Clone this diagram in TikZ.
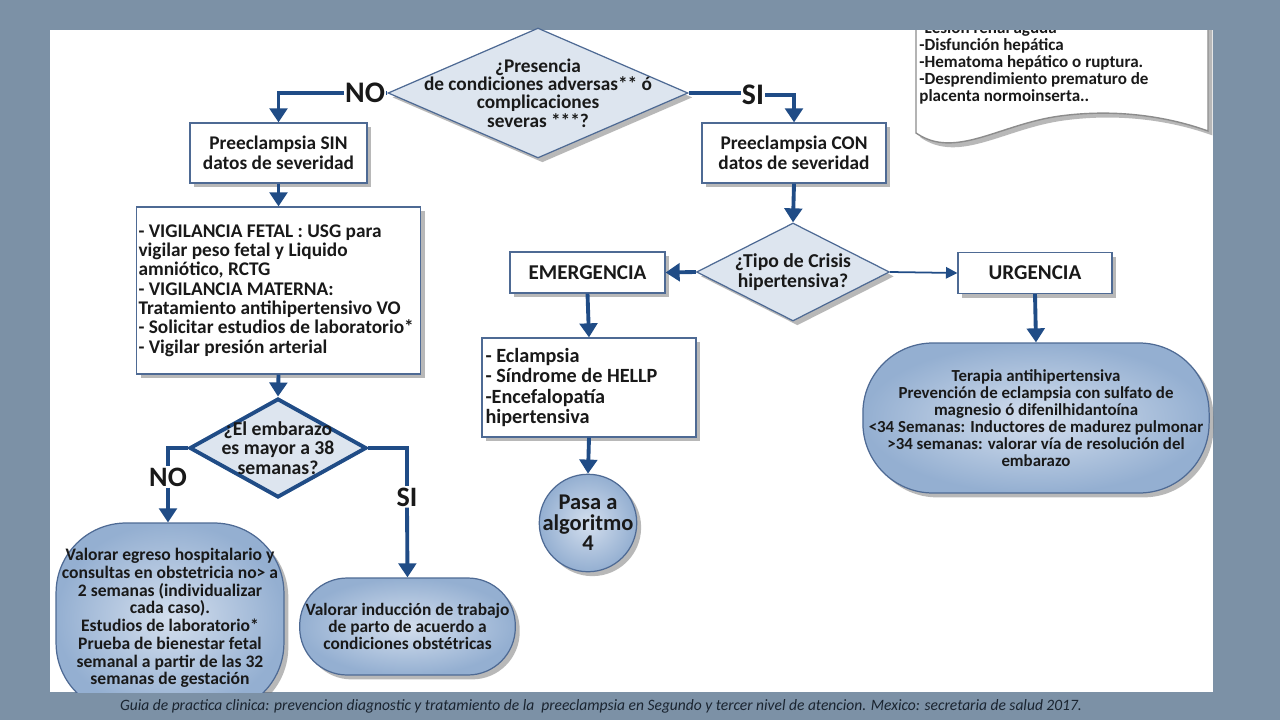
\documentclass[tikz,border=0pt]{standalone}
\usepackage{fontspec}
\setmainfont{Carlito}
\usepackage{tikz}
\usetikzlibrary{positioning}
\usetikzlibrary{shapes.geometric}
\usetikzlibrary{arrows.meta}
\usetikzlibrary{shadows}
\definecolor{slideColor}{RGB}{124,145,166}
\definecolor{flowColor}{RGB}{32,76,134}
\definecolor{frameColor}{RGB}{78,106,148}
\definecolor{decisionColor}{RGB}{221,229,239}
\definecolor{bubbleInner}{RGB}{212,223,238}
\definecolor{bubbleOuter}{RGB}{148,175,209}
\definecolor{footColor}{RGB}{26,36,48}

\begin{document}
\begin{tikzpicture}[x=0.02cm,y=-0.02cm]

          \tikzstyle{plainText} = [font=\bfseries\fontsize{11}{11.3}\selectfont, text=black!90, align=center];
          \tikzstyle{boxShadow} = [drop shadow={shadow xshift=2.5pt, shadow yshift=-2.5pt, fill=black!55, opacity=0.5}];
          \tikzstyle{normalBox} = [plainText, boxShadow, draw=frameColor, line width=0.7pt, fill=white, inner sep=2pt];
          \tikzstyle{decisionBox} = [diamond, boxShadow, draw=frameColor, line width=0.7pt, fill=decisionColor, inner sep=0pt];
          \tikzstyle{decisionBoxBis} = [diamond, draw=flowColor, line width=2.2pt, fill=decisionColor, inner sep=0pt];
          \tikzstyle{bubbleNode} = [plainText, boxShadow, draw=frameColor, line width=0.7pt, inner color=bubbleInner, outer color=bubbleOuter];
          \tikzstyle{flowLabel} = [font=\bfseries\fontsize{17}{17}\selectfont, text=black!90, inner sep=0.5pt];

          \tikzstyle{flowEdge} = [line width=2.2pt, flowColor];
          \tikzstyle{flowArrow} = [flowEdge, -{Triangle[width=10pt,length=8pt]}];
          \tikzstyle{thinArrow} = [line width=1pt, flowColor, -{Triangle[width=6.5pt,length=6.5pt]}];

          \useasboundingbox (0,0) rectangle (1280,720);
          \fill[slideColor] (0,0) rectangle (1280,720);
          \fill[white] (50,30) rectangle (1213,692);

          % note with the severe complications
          \begin{scope}
            \clip (50,30) rectangle (1213,692);
            \draw[boxShadow, draw=black!45, line width=0.8pt, fill=white] (916,0) -- (916,133) .. controls (955,160) and (1000,124) .. (1060,116) .. controls (1120,108) and (1172,118) .. (1208,131) -- (1208,0) -- cycle;
            \node[plainText, font=\bfseries\fontsize{9.7}{9.7}\selectfont, align=flush left, anchor=west, inner sep=0pt] (noteList) at (919,63) {-Lesión renal aguda\\-Disfunción hepática\\-Hematoma hepático o ruptura.\\-Desprendimiento prematuro de\\placenta normoinserta..};
          \end{scope}

          \node[decisionBox, minimum width=6cm, minimum height=2.6cm, label={[plainText, font=\bfseries\fontsize{11}{10.4}\selectfont]center:{¿Presencia\\de condiciones adversas** ó\\complicaciones\\severas ***?}}] (adverse) at (538,93) {};
          \node[flowLabel] (noTop) at (365,93) {NO};
          \node[flowLabel] (siTop) at (753,95) {SI};

          \node[normalBox, minimum width=3.54cm, minimum height=1.2cm] (sinBox) at (278.5,153) {Preeclampsia SIN\\datos de severidad};
          \node[normalBox, minimum width=3.68cm, minimum height=1.2cm] (conBox) at (794,153) {Preeclampsia CON\\datos de severidad};

          \node[normalBox, text width=5.6cm, inner xsep=1.2pt, minimum height=3.34cm, align=flush left, font=\bfseries\fontsize{11}{11}\selectfont] (vigBox) at (278.5,290.5) {- VIGILANCIA FETAL : USG para\\vigilar peso fetal y Liquido\\amniótico, RCTG\\- VIGILANCIA MATERNA:\\Tratamiento antihipertensivo VO\\- Solicitar estudios de laboratorio*\\- Vigilar presión arterial};

          \node[decisionBoxBis, minimum width=3.54cm, minimum height=1.98cm, label={[plainText, font=\bfseries\fontsize{11.2}{11.2}\selectfont]center:{¿El embarazo\\es mayor a 38\\semanas?}}] (pregnancy) at (278,448) {};
          \node[flowLabel, font=\bfseries\fontsize{16}{16}\selectfont] (noLow) at (168,477) {NO};
          \node[flowLabel, font=\bfseries\fontsize{16}{16}\selectfont] (siLow) at (407,497) {SI};

          \begin{scope}
            \clip (50,30) rectangle (1213,692);
            \node[bubbleNode, rounded corners=1.4cm, minimum width=4.4cm, minimum height=3.8cm, font=\bfseries\fontsize{10}{10.1}\selectfont] (discharge) at (170,618) {Valorar egreso hospitalario y\\consultas en obstetricia no> a\\2 semanas (individualizar\\cada caso).\\Estudios de laboratorio*\\Prueba de bienestar fetal\\semanal a partir de las 32\\semanas de gestación};
          \end{scope}
          \node[bubbleNode, rounded corners=0.95cm, minimum width=4.22cm, minimum height=1.94cm, font=\bfseries\fontsize{9.9}{9.7}\selectfont] (induction) at (407.5,626.5) {Valorar inducción de trabajo\\de parto de acuerdo a\\condiciones obstétricas};

          \node[decisionBox, minimum width=3.86cm, minimum height=1.96cm, label={[plainText, font=\bfseries\fontsize{11.2}{11}\selectfont]center:{¿Tipo de Crisis\\hipertensiva?}}] (crisis) at (793,272) {};
          \node[normalBox, minimum width=3.1cm, minimum height=0.82cm, font=\bfseries\fontsize{12}{12}\selectfont] (emerBox) at (587.5,272.5) {EMERGENCIA};
          \node[normalBox, minimum width=3.08cm, minimum height=0.82cm, font=\bfseries\fontsize{12}{12}\selectfont] (urgBox) at (1035,273) {URGENCIA};

          \node[normalBox, text width=4.14cm, minimum height=1.98cm, align=flush left, font=\bfseries\fontsize{11.5}{11.4}\selectfont] (emerList) at (589,387.5) {- Eclampsia\\- Síndrome de HELLP\\-Encefalopatía\\hipertensiva};
          \node[bubbleNode, circle, minimum size=1.95cm, inner sep=-4pt, font=\bfseries\fontsize{12.8}{11.6}\selectfont] (nextAlgo) at (588,523) {Pasa a\\algoritmo\\4};

          \node[bubbleNode, rounded corners=1.4cm, minimum width=6.84cm, minimum height=3cm, font=\bfseries\fontsize{9.6}{9.7}\selectfont] (therapy) at (1036,418) {Terapia antihipertensiva\\Prevención de eclampsia con sulfato de\\magnesio ó difenilhidantoína\\<34 Semanas: Inductores de madurez pulmonar\\>34 semanas: valorar vía de resolución del\\embarazo};

          \node[font=\itshape\fontsize{9}{9}\selectfont, text=footColor, inner sep=0pt] (source) at (601,706) {\resizebox{19.24cm}{\height}{Guia de practica clinica: prevencion diagnostic y tratamiento de la\ \ preeclampsia en Segundo y tercer nivel de atencion. Mexico: secretaria de salud 2017.}};

          \draw[flowEdge] (adverse.west) -- (noTop.east);
          \draw[flowArrow] (noTop.west) -| (sinBox.north);
          \draw[flowEdge] (adverse.east) -- (siTop.west |- adverse.east);
          \draw[flowArrow] (siTop.east) -| (conBox.north);
          \draw[flowArrow] (sinBox.south) -- (vigBox.north);
          \draw[flowArrow] (vigBox.south) -- (pregnancy.north);
          \draw[flowEdge] (pregnancy.west) -| (noLow.north);
          \draw[flowArrow] (noLow.south) -- (noLow.south |- discharge.north);
          \draw[flowEdge] (pregnancy.east) -| (siLow.north);
          \draw[flowArrow] (siLow.south) -- (induction.north);
          \draw[flowArrow] (conBox.south) -- (crisis.north);
          \draw[flowArrow] (crisis.west) -- (emerBox.east);
          \draw[thinArrow] (crisis.east) -- (urgBox.west);
          \draw[flowArrow] (emerBox.south) -- (emerList.north);
          \draw[flowArrow] (emerList.south) -- (nextAlgo.north);
          \draw[flowArrow] (urgBox.south) -- (therapy.north);
        \end{tikzpicture}
\end{document}
